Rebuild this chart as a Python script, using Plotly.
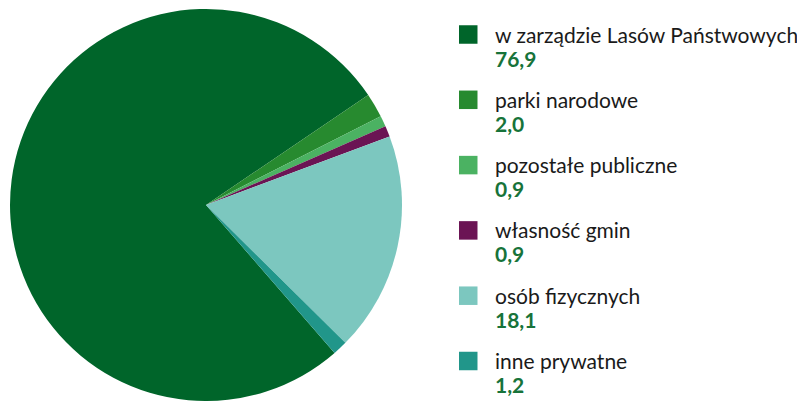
import plotly.graph_objects as go

categories = ["w zarządzie Lasów Państwowych", "parki narodowe", "pozostałe publiczne",
              "własność gmin", "osób fizycznych", "inne prywatne"]
values = [76.9, 2.0, 0.9, 0.9, 18.1, 1.2]
value_labels = ["76,9", "2,0", "0,9", "0,9", "18,1", "1,2"]
colors = ["#00652a", "#278a2f", "#4bb262", "#6b1454", "#7cc7bf", "#21968a"]
value_color = "#17733a"

OFF = 8  # default page body margin
W, H = 805 - OFF, 401 - OFF
cx, cy, r = 206 - OFF, 205 - OFF, 196

fig = go.Figure()
fig.add_trace(go.Pie(
    labels=categories, values=values, sort=False, direction="clockwise",
    rotation=139, textinfo="none", hoverinfo="label+value",
    marker=dict(colors=colors, line=dict(width=0)),
    domain=dict(x=[(cx - r) / W, (cx + r) / W], y=[max(0, (H - cy - r) / H), min(1, (H - cy + r) / H)]),
    showlegend=False,
))

shapes = []
annotations = []
sq_x0, sq_size = 459 - OFF, 18.5
first_center, step = 34.5 - OFF, 65.3
FS = 21
for i, (lab, vl) in enumerate(zip(categories, value_labels)):
    yc = first_center + i * step
    shapes.append(dict(type="rect", xref="paper", yref="paper",
                       x0=sq_x0 / W, x1=(sq_x0 + sq_size) / W,
                       y0=1 - (yc - sq_size / 2) / H, y1=1 - (yc + sq_size / 2) / H,
                       fillcolor=colors[i], line=dict(width=0)))
    annotations.append(dict(xref="paper", yref="paper", x=(493 - OFF) / W, y=1 - (yc - 0.5) / H,
                            xanchor="left", yanchor="middle", align="left", showarrow=False,
                            text=lab, font=dict(family="Lato", size=FS, color="#1a1a1a")))
    annotations.append(dict(xref="paper", yref="paper", x=(493 - OFF) / W, y=1 - (yc + 23.5) / H,
                            xanchor="left", yanchor="middle", align="left", showarrow=False,
                            text=f"<b>{vl}</b>", font=dict(family="Lato", size=FS, color=value_color)))

fig.update_layout(width=W, height=H, margin=dict(l=0, r=0, t=0, b=0),
                  paper_bgcolor="white", plot_bgcolor="white",
                  shapes=shapes, annotations=annotations)
fig.write_html("out.html")
